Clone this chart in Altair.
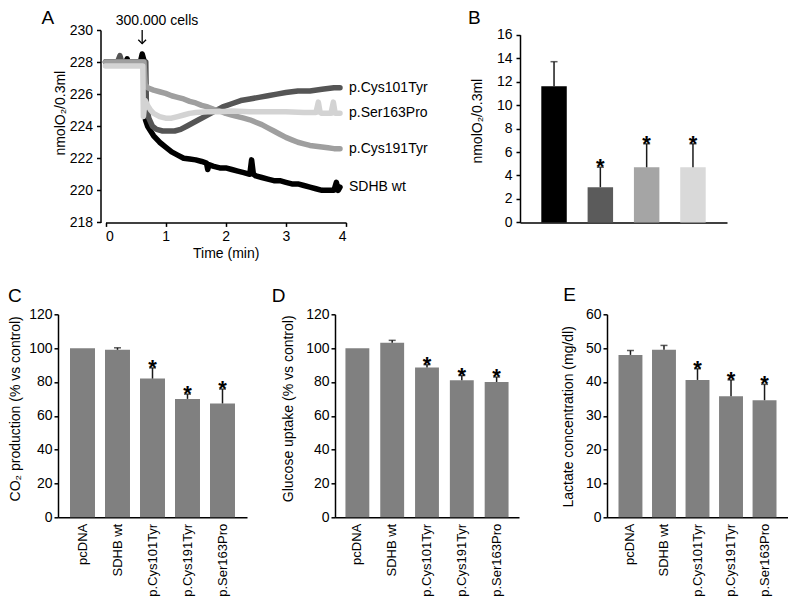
import altair as alt
import pandas as pd

FONT = "Liberation Sans"

# ---------------- Panel A : O2 consumption traces ----------------
a_series = ["SDHB wt", "p.Cys101Tyr", "p.Cys191Tyr", "p.Ser163Pro"]
a_colors = ["#000000", "#555555", "#9f9f9f", "#d3d3d3"]

t_wt = [0.0, 0.2, 0.34, 0.36, 0.38, 0.5, 0.58, 0.61, 0.64, 0.66, 0.665, 0.7, 0.75, 0.8, 0.9,
        1.0, 1.1, 1.2, 1.3, 1.4, 1.5, 1.6, 1.68, 1.7, 1.72, 1.8, 1.9, 2.0, 2.1, 2.2, 2.3, 2.4,
        2.43, 2.46, 2.5, 2.6, 2.7, 2.8, 2.9, 3.0, 3.1, 3.2, 3.3, 3.4, 3.5, 3.6, 3.7, 3.8, 3.84,
        3.87, 3.9]
v_wt = [228.0, 228.0, 228.0, 228.2, 228.0, 228.0, 228.0, 228.5, 228.1, 228.0, 224.4, 224.0,
        223.7, 223.4, 223.0, 222.7, 222.4, 222.2, 222.0, 221.95, 221.9, 221.8, 221.7, 221.3,
        221.6, 221.5, 221.4, 221.4, 221.3, 221.2, 221.1, 221.0, 221.9, 221.0, 220.9, 220.8,
        220.7, 220.6, 220.6, 220.5, 220.4, 220.4, 220.3, 220.2, 220.1, 220.0, 220.0, 220.0,
        220.5, 220.0, 220.2]

t_c101 = [0.0, 0.2, 0.24, 0.27, 0.3, 0.5, 0.6, 0.67, 0.68, 0.72, 0.78, 0.85, 0.95, 1.05, 1.15,
          1.25, 1.35, 1.45, 1.55, 1.65, 1.75, 1.85, 1.95, 2.1, 2.25, 2.4, 2.55, 2.7, 2.85, 3.0,
          3.2, 3.4, 3.6, 3.8, 3.9]
v_c101 = [228.0, 228.0, 228.4, 228.0, 228.0, 228.0, 228.0, 228.0, 225.3, 224.5, 224.0, 223.8,
          223.7, 223.7, 223.7, 223.8, 224.0, 224.2, 224.4, 224.6, 224.8, 225.0, 225.2, 225.4,
          225.6, 225.7, 225.8, 225.9, 226.0, 226.1, 226.2, 226.2, 226.3, 226.4, 226.4]

t_c191 = [0.0, 0.3, 0.6, 0.64, 0.66, 0.7, 0.8, 0.9, 1.0, 1.1, 1.2, 1.3, 1.4, 1.5, 1.6, 1.7, 1.8,
          1.9, 2.0, 2.1, 2.2, 2.3, 2.4, 2.5, 2.6, 2.7, 2.8, 2.9, 3.0, 3.1, 3.2, 3.3, 3.4, 3.5,
          3.6, 3.7, 3.8, 3.9]
v_c191 = [228.0, 228.0, 228.0, 228.0, 226.6, 226.4, 226.25, 226.15, 226.05, 225.9, 225.8, 225.7,
          225.55, 225.45, 225.3, 225.2, 225.05, 224.95, 224.8, 224.7, 224.6, 224.5, 224.4,
          224.25, 224.1, 223.9, 223.7, 223.5, 223.3, 223.15, 223.0, 222.9, 222.8, 222.75, 222.7,
          222.65, 222.6, 222.6]

t_s163 = [0.0, 0.3, 0.6, 0.62, 0.63, 0.66, 0.7, 0.75, 0.8, 0.9, 1.0, 1.1, 1.2, 1.3, 1.4, 1.5,
          1.7, 1.9, 2.1, 2.4, 2.7, 3.0, 3.3, 3.5, 3.54, 3.57, 3.6, 3.75, 3.79, 3.82, 3.9]
v_s163 = [227.75, 227.75, 227.75, 227.75, 224.6, 225.6, 225.3, 225.0, 224.8, 224.6, 224.5, 224.5,
          224.6, 224.7, 224.8, 224.85, 224.9, 224.9, 224.95, 224.9, 224.9, 224.9, 224.85, 224.85,
          225.5, 224.85, 224.8, 224.8, 225.5, 224.8, 224.8]

a_times = [t_wt, t_c101, t_c191, t_s163]
a_values = [v_wt, v_c101, v_c191, v_s163]
a_xticks = [0, 1, 2, 3, 4]
a_yticks = [218, 220, 222, 224, 226, 228, 230]

cells_label = ["300.000 cells"]
cells_t = [0.857]
cells_v = [230.54]
arrow_t = [0.61]
arrow_top = [230.0]
arrow_bottom = [229.15]

# ---------------- Panel B : O2 consumption rate ----------------
b_cats = ["SDHB wt", "p.Cys101Tyr", "p.Cys191Tyr", "p.Ser163Pro"]
b_vals = [11.6, 3.0, 4.7, 4.7]
b_errs = [2.1, 1.7, 2.0, 2.0]
b_sig = [False, True, True, True]
b_colors = ["#000000", "#5b5b5b", "#a5a5a5", "#d9d9d9"]
b_yticks = [0, 2, 4, 6, 8, 10, 12, 14, 16]

# ---------------- Panels C, D, E ----------------
cats = ["pcDNA", "SDHB wt", "p.Cys101Tyr", "p.Cys191Tyr", "p.Ser163Pro"]
sig = [False, False, True, True, True]
co2 = [100, 99, 82, 70, 67.3]
co2_err = [0, 1.2, 6.3, 2.8, 8.5]
glu = [100, 103.2, 88.6, 81, 80]
glu_err = [0, 1.4, 1.6, 2.8, 2.9]
lac = [48, 49.5, 40.6, 35.8, 34.6]
lac_err = [1.3, 1.3, 3.3, 4.8, 4.7]
ce_yticks = [0, 20, 40, 60, 80, 100, 120]
e_yticks = [0, 10, 20, 30, 40, 50, 60]

BAR_GREY = "#808080"
ERR_COL = "#1a1a1a"


def letter(txt, x, y, baseline):
    return alt.Chart(pd.DataFrame({"l": [txt]})).mark_text(
        fontSize=19, align="left", baseline=baseline, font=FONT, color="black"
    ).encode(text="l:N", x=alt.value(x), y=alt.value(y))


# ---- Panel A chart ----
rows = []
for name, ts, vs in zip(a_series, a_times, a_values):
    rows += [{"series": name, "t": t, "v": v} for t, v in zip(ts, vs)]
dfA = pd.DataFrame(rows)

xA = alt.X("t:Q", scale=alt.Scale(domain=[0, 4], range=[47.5, 288], nice=False, zero=False),
           axis=alt.Axis(values=a_xticks, title="Time (min)", tickSize=4, labelPadding=3,
                         titlePadding=3, format="d"))
yA = alt.Y("v:Q", scale=alt.Scale(domain=[218, 230], nice=False, zero=False),
           axis=alt.Axis(values=a_yticks, title="nmolO₂/0.3ml", offset=-42.5, tickSize=4,
                         labelPadding=4, titleX=-40.5, titleY=82.7, titleAngle=-90,
                         titleAlign="center", titleBaseline="middle", format="d"))

a_layers = []
for name, col in zip(a_series, a_colors):
    a_layers.append(
        alt.Chart(dfA).transform_filter(alt.datum.series == name).mark_line(
            color=col, strokeWidth=5.5, strokeJoin="round", strokeCap="round"
        ).encode(x=xA, y=yA)
    )

df_lab = pd.DataFrame({"name": a_series, "t": [4.0] * 4, "v": [vs[-1] for vs in a_values]})
a_labels = alt.Chart(df_lab).mark_text(align="left", baseline="middle", dx=3, dy=0,
                                       fontSize=14, font=FONT, color="black").encode(
    x=xA, y=yA, text="name:N")

df_cells = pd.DataFrame({"t": cells_t, "v": cells_v, "label": cells_label})
a_cells = alt.Chart(df_cells).mark_text(align="center", baseline="middle", fontSize=14,
                                        font=FONT, color="black").encode(x=xA, y=yA, text="label:N")
df_arrow = pd.DataFrame({"t": arrow_t, "v": arrow_top, "v2": arrow_bottom})
a_arrow = alt.Chart(df_arrow).mark_rule(color="black", strokeWidth=1.3).encode(x=xA, y=yA, y2="v2:Q")
df_head = pd.DataFrame({"t": arrow_t, "v": arrow_bottom})
a_head = alt.Chart(df_head).mark_point(shape="M-1,-1L0,0L1,-1", size=60, filled=False,
                                       color="black", strokeWidth=1.3, opacity=1).encode(x=xA, y=yA)

chartA = alt.layer(*a_layers, a_labels, a_cells, a_arrow, a_head,
                   letter("A", -16.5, -21.3, "top")).properties(width=277, height=192.4)


# ---- bar panel builder ----
def bar_panel(cat_list, vals, errs, stars, colors, yticks, ydomain, yrange, xrange, ytitle, tx, ty,
              pin, pout, show_x_labels, ypad, catfield, yoffset):
    df = pd.DataFrame({
        catfield: cat_list, "val": vals, "err": errs,
        "top": [v + e for v, e in zip(vals, errs)],
        "star": ["*" if s else "" for s in stars],
    })
    if show_x_labels:
        xax = alt.Axis(title=None, labelAngle=-90, labelAlign="right", labelBaseline="middle",
                       ticks=False, labelPadding=6, labelFontSize=13, domain=True)
    else:
        xax = alt.Axis(title=None, labels=False, ticks=False, domain=True)
    xenc = alt.X(f"{catfield}:N", sort=cat_list, axis=xax,
                 scale=alt.Scale(paddingInner=pin, paddingOuter=pout, range=xrange))
    if yrange:
        yscale = alt.Scale(domain=ydomain, nice=False, zero=True, range=yrange)
    else:
        yscale = alt.Scale(domain=ydomain, nice=False, zero=True)
    yax = alt.Axis(values=yticks, title=ytitle, tickSize=4, labelPadding=ypad, titleX=tx,
                   titleY=ty, titleAngle=-90, titleAlign="center", titleBaseline="middle",
                   offset=yoffset)
    if colors:
        bars = alt.Chart(df).mark_bar().encode(
            x=xenc,
            y=alt.Y("val:Q", scale=yscale, axis=yax),
            color=alt.Color(f"{catfield}:N", scale=alt.Scale(domain=cat_list, range=colors),
                            legend=None),
        )
    else:
        bars = alt.Chart(df).mark_bar(color=BAR_GREY).encode(
            x=xenc, y=alt.Y("val:Q", scale=yscale, axis=yax))
    dfe = df[df["err"] > 0]
    rules = alt.Chart(dfe).mark_rule(color=ERR_COL, strokeWidth=1.5).encode(
        x=xenc, y=alt.Y("val:Q", scale=yscale, axis=yax), y2="top:Q")
    caps = alt.Chart(dfe).mark_tick(color=ERR_COL, thickness=1.5, size=7, orient="horizontal").encode(
        x=xenc, y=alt.Y("top:Q", scale=yscale, axis=yax))
    dfs = df[df["star"] != ""]
    star = alt.Chart(dfs).mark_text(fontSize=22, fontWeight="bold", baseline="alphabetic", dy=7,
                                    font=FONT, color="black").encode(
        x=xenc, y=alt.Y("top:Q", scale=yscale, axis=yax), text="star:N")
    return [bars, rules, caps, star]


b_layers = bar_panel(b_cats, b_vals, b_errs, b_sig, b_colors, b_yticks, [0, 16], [192.4, 4.7],
                     [0, 207], "nmolO₂/0.3ml", -43, 90.7, 0.45, 0.46, False, 4, "line", 0)
chartB = alt.layer(*b_layers, letter("B", -52, -21.3, "top")).properties(width=207, height=192.4)

c_layers = bar_panel(cats, co2, co2_err, sig, None, ce_yticks, [0, 120], None, [0, 189],
                     "CO₂ production (% vs control)", -42.5, 94, 0.286, 0.343, True, 2, "cat", 0)
chartC = alt.layer(*c_layers, letter("C", -50, -18.5, "middle")).properties(width=277, height=203)

d_layers = bar_panel(cats, glu, glu_err, sig, None, ce_yticks, [0, 120], None, [0, 184],
                     "Glucose uptake (% vs control)", -46.5, 94, 0.314, 0.3, True, 2, "cat", 0)
chartD = alt.layer(*d_layers, letter("D", -63.3, -18.5, "middle")).properties(width=185, height=203)

e_layers = bar_panel(cats, lac, lac_err, sig, None, e_yticks, [0, 60], None, [87, 268],
                     "Lactate concentration (mg/dl)", -38.5, 102, 0.286, 0.343, True, 2, "cat", -87)
chartE = alt.layer(*e_layers, letter("E", 43.3, -19.5, "middle")).properties(width=268, height=203)

spacer = alt.Chart(pd.DataFrame({"s": [0]})).mark_point(size=0, opacity=0).encode(
    x=alt.value(0), y=alt.value(0)).properties(width=185, height=192.4)

chart = alt.concat(
    chartA, spacer, chartB, chartC, chartD, chartE,
    columns=3, align="each", bounds="flush", spacing={"row": 91.3, "column": 0}
).properties(
    padding=0, background="white"
).configure(font=FONT).configure_view(
    strokeWidth=0
).configure_axis(
    domainColor="black", domainWidth=1.5, tickColor="black", tickWidth=1.5,
    labelFont=FONT, labelFontSize=14, labelColor="black", titleFont=FONT, titleFontSize=14,
    titleFontWeight="normal", titleColor="black", grid=False
)

chart.save("out.html", embed_options={"renderer": "svg", "actions": False})
